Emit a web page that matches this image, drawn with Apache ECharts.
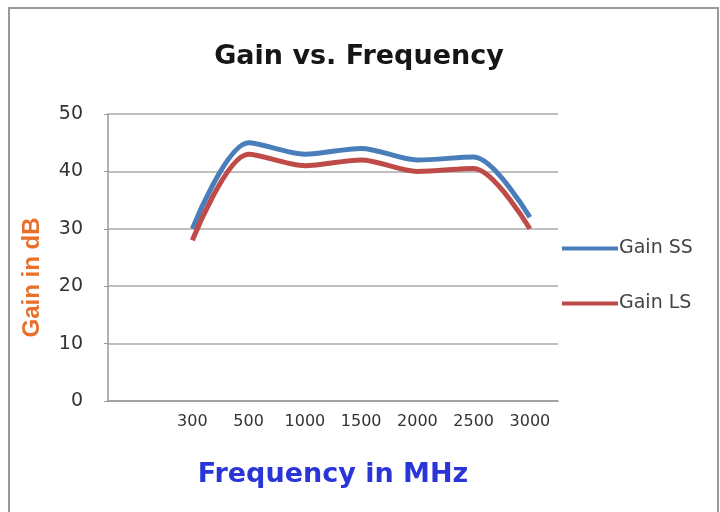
<!DOCTYPE html>
<html>
<head>
<meta charset="utf-8">
<script src="https://cdn.jsdelivr.net/npm/echarts@6/dist/echarts.min.js"></script>
<style>
  html, body { margin: 0; padding: 0; background: #fff; }
  #chart { width: 720px; height: 512px; }
</style>
</head>
<body>
<div id="chart"></div>
<script>
// first slot is empty in the source sheet, so the 300 column sits one step in
const frequencies = ['', '300', '500', '1000', '1500', '2000', '2500', '3000']
const gainSS = [null, 30, 45, 43, 44, 42, 42.5, 32]
const gainLS = [null, 28, 43, 41, 42, 40, 40.5, 30]

const chart = echarts.init(document.getElementById('chart'))
const option = {
  animation: false,
  backgroundColor: '#fff',
  title: {
    text: 'Gain vs. Frequency',
    left: 354,
    textAlign: 'center',
    top: 38,
    textStyle: { fontFamily: 'DejaVu Sans', fontSize: 27, fontWeight: 'bold', color: '#161616' },
  },
  legend: {
    orient: 'vertical',
    left: 557,
    top: 234,
    itemGap: 36,
    itemWidth: 56,
    itemHeight: 4,
    icon: 'rect',
    textStyle: { fontFamily: 'DejaVu Sans', fontSize: 19, color: '#444', padding: [0, 0, 0, -4] },
    data: ['Gain SS', 'Gain LS'],
  },
  grid: { left: 108, right: 162, top: 114, bottom: 111 },
  xAxis: {
    type: 'category',
    data: frequencies,
    boundaryGap: true,
    name: 'Frequency in MHz',
    nameLocation: 'middle',
    nameGap: 60,
    nameTextStyle: { fontFamily: 'DejaVu Sans', fontSize: 27, fontWeight: 'bold', color: '#2a35d8' },
    axisLine: { lineStyle: { color: '#999', width: 1.5 } },
    axisTick: { show: false },
    axisLabel: { fontFamily: 'DejaVu Sans', fontSize: 16, color: '#333', margin: 13 },
  },
  yAxis: {
    type: 'value',
    min: 0,
    max: 50,
    interval: 10,
    name: 'Gain in dB',
    nameLocation: 'middle',
    nameGap: 64,
    nameTextStyle: { fontFamily: 'Liberation Sans', fontSize: 24, fontWeight: 'bold', color: '#e8702a', padding: [0, 40, 0, 0] },
    axisLine: { show: true, lineStyle: { color: '#999', width: 1.5 } },
    axisTick: { show: true, length: 4, lineStyle: { color: '#999' } },
    splitLine: { lineStyle: { color: '#aaa', width: 1.5 } },
    axisLabel: { fontFamily: 'DejaVu Sans', fontSize: 19, color: '#333', margin: 25 },
  },
  series: [
    {
      name: 'Gain SS',
      type: 'line',
      data: gainSS,
      smooth: 0.3,
      showSymbol: false,
      color: '#4a7ebb',
      lineStyle: { width: 5 },
    },
    {
      name: 'Gain LS',
      type: 'line',
      data: gainLS,
      smooth: 0.3,
      showSymbol: false,
      color: '#be4b48',
      lineStyle: { width: 5 },
    },
  ],
  graphic: [
    {
      type: 'rect',
      shape: { x: 9, y: 8, width: 709, height: 510 },
      style: { fill: 'none', stroke: '#9a9a9a', lineWidth: 2 },
      silent: true,
    },
  ],
}
option && chart.setOption(option)
</script>
</body>
</html>
